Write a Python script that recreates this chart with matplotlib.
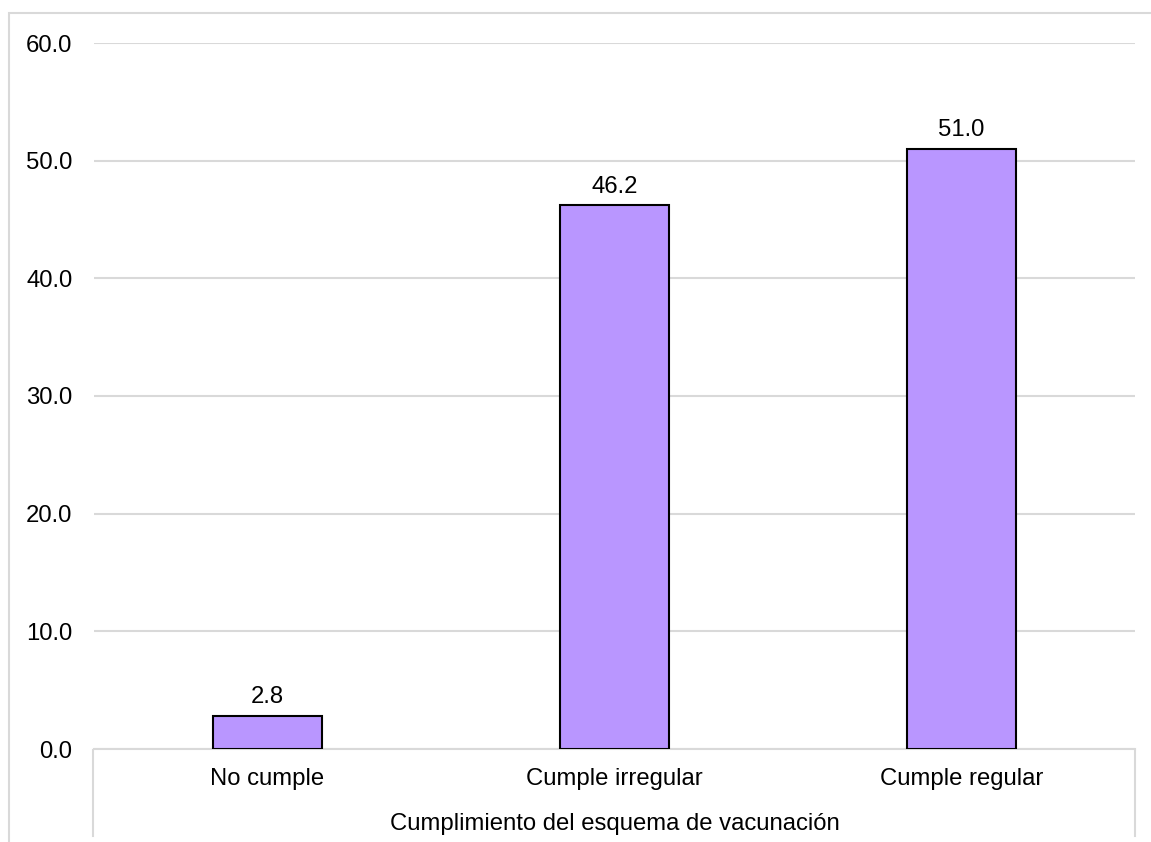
import matplotlib.pyplot as plt
from matplotlib.patches import Rectangle
from matplotlib.lines import Line2D

plt.rcParams['font.family'] = ['Liberation Sans', 'DejaVu Sans']

# datos
categorias = ['No cumple', 'Cumple irregular', 'Cumple regular']
porcentajes = [2.8, 46.2, 51.0]
ticks_y = [0, 10, 20, 30, 40, 50, 60]
titulo_x = 'Cumplimiento del esquema de vacunación'

gris = '#d9d9d9'
morado = '#b996ff'
fs = 17.2

fig = plt.figure(figsize=(11.51, 8.42), dpi=100)
ax = fig.add_axes([94/1151, 1 - 749/842, (1135 - 94)/1151, (749 - 43)/842])

x = range(len(categorias))
barras = ax.bar(x, porcentajes, width=0.317, color=morado, edgecolor='black', linewidth=1.5, zorder=3)

# etiquetas de valor encima de cada barra
for b, v in zip(barras, porcentajes):
    ax.annotate('%.1f' % v, (b.get_x() + b.get_width() / 2, v), xytext=(0, 5.5),
                textcoords='offset points', ha='center', va='bottom', fontsize=fs)

ax.set_xlim(-0.5, len(categorias) - 0.5)
ax.set_ylim(0, 60)
ax.set_yticks(ticks_y)
ax.set_yticklabels(['%.1f' % t for t in ticks_y], fontsize=fs)
ax.set_xticks(list(x))
ax.set_xticklabels(categorias, fontsize=fs)
ax.tick_params(axis='both', length=0)
ax.tick_params(axis='y', pad=15.5)
ax.tick_params(axis='x', pad=14)
ax.grid(axis='y', color=gris, linewidth=1.5, zorder=0)

for s in ['top', 'right', 'left']:
    ax.spines[s].set_visible(False)
ax.spines['bottom'].set_color(gris)
ax.spines['bottom'].set_linewidth(1.5)

ax.text(0.5, -0.106, titulo_x, transform=ax.transAxes, ha='center', va='center', fontsize=fs)

# lineas laterales del eje de categorias
for xf in [93/1151, 1135/1151]:
    fig.add_artist(Line2D([xf, xf], [1 - 750/842, 1 - 836/842], color=gris, linewidth=1.5))

# borde exterior del grafico
fig.add_artist(Rectangle((8.5/1151, -0.05), 1.2, 1 - 13/842 + 0.05, fill=False,
                         edgecolor=gris, linewidth=1.5))

fig.savefig('out.png', dpi=100)
